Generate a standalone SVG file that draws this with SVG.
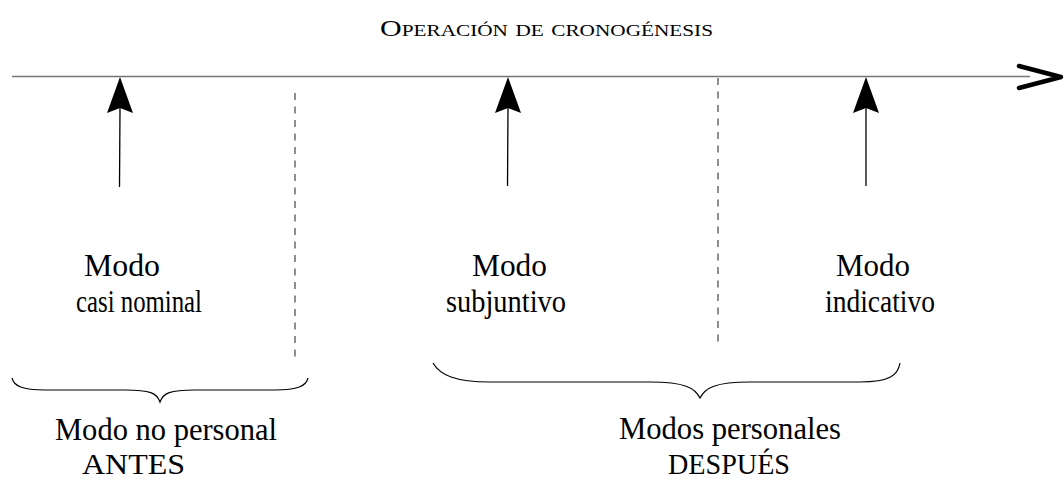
<svg xmlns="http://www.w3.org/2000/svg" width="1064" height="481" viewBox="0 0 1064 481">
<style>
text{font-family:"Liberation Serif","Times New Roman","DejaVu Serif",serif;fill:#000;font-size:31px}
.title{font-size:24px;font-variant:small-caps}
.low{font-size:29px}
.dash{stroke:#444;stroke-width:1.2;stroke-dasharray:7 6.5;fill:none}
.shaft{stroke:#000;stroke-width:1.3;fill:none}
.brace{stroke:#000;stroke-width:1.2;fill:none}
</style>
<defs>
<path id="head" d="M0,0 L13,36 L0,31 L-13,36 Z" fill="#000"/>
</defs>
<rect width="1064" height="481" fill="#fff"/>
<g id="title"><text class="title" x="380" y="36" textLength="333" lengthAdjust="spacingAndGlyphs">Operación de cronogénesis</text></g>
<g id="connectors">
<line x1="12" y1="76.5" x2="1030" y2="76.5" stroke="#777" stroke-width="1.6"/>
<polyline points="1019,66 1061,77 1019,88" fill="none" stroke="#000" stroke-width="4.5" stroke-linecap="round" stroke-linejoin="round"/>
<line class="shaft" x1="119.5" y1="187" x2="120" y2="108"/>
<use href="#head" x="120" y="77"/>
<line class="shaft" x1="507.5" y1="186" x2="508" y2="108"/>
<use href="#head" x="508" y="77"/>
<line class="shaft" x1="866" y1="186" x2="866" y2="108"/>
<use href="#head" x="866" y="77"/>
<line class="dash" x1="295" y1="93" x2="295" y2="358"/>
<line class="dash" x1="718" y1="78" x2="718" y2="342"/>
</g>
<g id="brace-left"><path class="brace" d="M12,378 C14,386 22,390 45,390 L125,390 C150,390 157,393 160,402 C163,393 170,390 195,390 L275,390 C298,390 306,386 308,378"/></g>
<g id="brace-right"><path class="brace" d="M433,363 C440,375 455,382 490,382 L650,382 C685,382 695,388 700,398 C705,388 715,382 750,382 L860,382 C890,382 898,375 900,363"/></g>
<g id="node-casi"><text x="84" y="276" textLength="76" lengthAdjust="spacingAndGlyphs">Modo</text><text x="76" y="312" textLength="126" lengthAdjust="spacingAndGlyphs">casi nominal</text></g>
<g id="node-subj"><text x="472" y="276" textLength="75" lengthAdjust="spacingAndGlyphs">Modo</text><text x="446" y="312" textLength="120" lengthAdjust="spacingAndGlyphs">subjuntivo</text></g>
<g id="node-ind"><text x="836" y="276" textLength="74" lengthAdjust="spacingAndGlyphs">Modo</text><text x="825" y="312" textLength="110" lengthAdjust="spacingAndGlyphs">indicativo</text></g>
<g id="node-nopersonal"><text x="55" y="440" textLength="222" lengthAdjust="spacingAndGlyphs">Modo no personal</text><text class="low" x="82" y="474" textLength="103" lengthAdjust="spacingAndGlyphs">ANTES</text></g>
<g id="node-personales"><text x="619" y="439" textLength="222" lengthAdjust="spacingAndGlyphs">Modos personales</text><text class="low" x="668" y="474" textLength="122" lengthAdjust="spacingAndGlyphs">DESPUÉS</text></g>
</svg>
